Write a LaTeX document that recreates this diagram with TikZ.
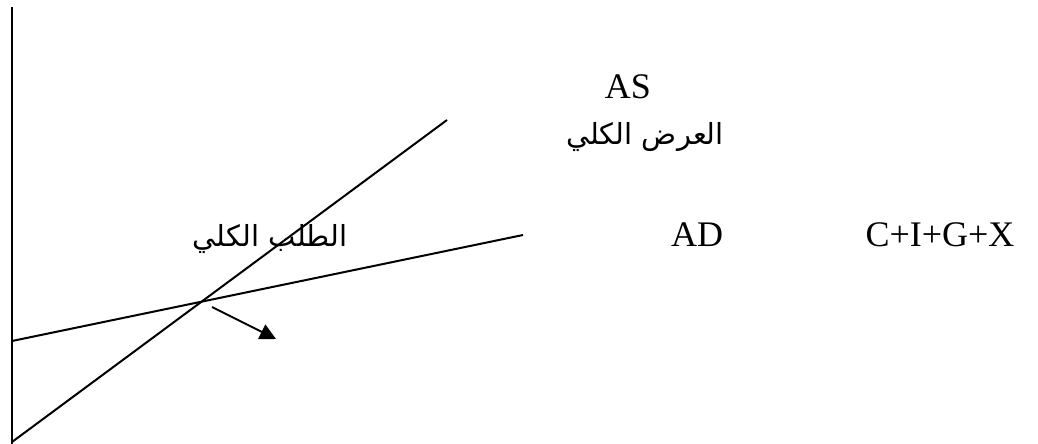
\documentclass[tikz,border=0pt]{standalone}
\usepackage{fontspec}
\setmainfont{Liberation Serif}
\newfontfamily\arabicfont[Script=Arabic]{DejaVu Sans}
\TeXXeTstate=1
\usetikzlibrary{arrows.meta}
\begin{document}
\begin{tikzpicture}[x=1pt,y=-1pt,
  ln/.style={line width=2pt,black},
  lat/.style={font=\fontsize{36}{36}\selectfont,inner sep=0pt,anchor=base},
  ar/.style={font=\arabicfont\fontsize{29}{29}\selectfont,inner sep=0pt,anchor=base}]
\useasboundingbox (0,0) rectangle (1038,444);
\coordinate (ytop) at (12,7);
\coordinate (ybot) at (12,444);
\draw[ln] (ytop) -- (ybot);
\coordinate (asl) at (12,442);
\coordinate (asr) at (447,120);
\draw[ln] (asl) -- (asr);
\coordinate (adl) at (12,341);
\coordinate (adr) at (523,235);
\draw[ln] (adl) -- (adr);
\coordinate (a1) at (212,307);
\coordinate (a2) at (276,339);
\draw[ln,-{Triangle[length=16pt,width=16pt]}] (a1) -- (a2);
\node[lat] (AS) at (628,98) {AS};
\node[ar] (ASar) at (645,144) {\beginR العرض الكلي\endR};
\node[ar] (ADar) at (270,246) {\beginR الطلب الكلي\endR};
\node[lat] (AD) at (697,246) {AD};
\node[lat] (CIGX) at (940,246) {C+I+G+X};
\end{tikzpicture}
\end{document}
